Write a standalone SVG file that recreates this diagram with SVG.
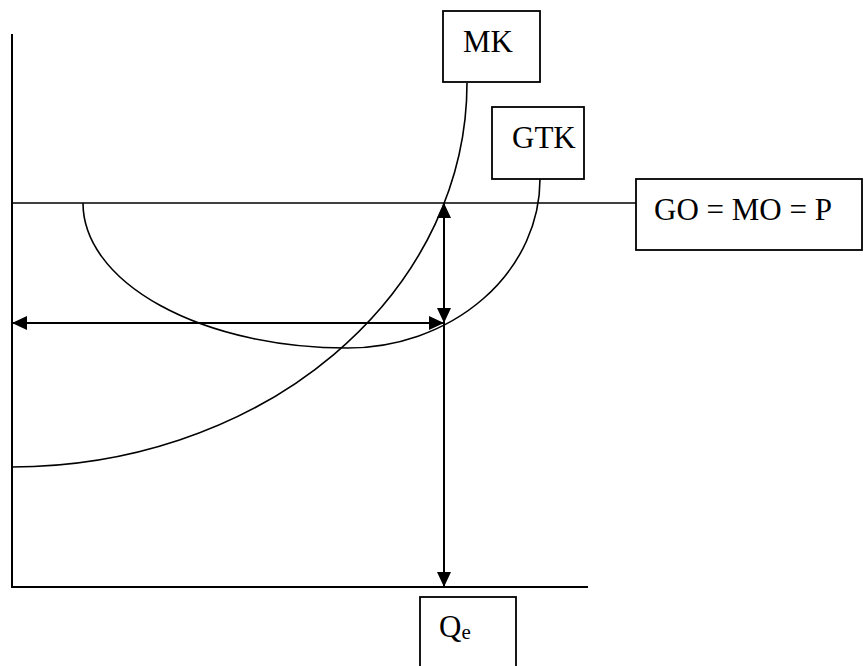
<svg xmlns="http://www.w3.org/2000/svg" width="865" height="666" viewBox="0 0 865 666">
<defs>
<style>
.ln{fill:none;stroke:#000;stroke-width:1.6}
.ax{fill:none;stroke:#000;stroke-width:2}
.box{fill:#fff;stroke:#000;stroke-width:1.8}
.lbl{font-family:"Liberation Serif","Times New Roman",serif;font-size:31px;fill:#000}
.arr{fill:none;stroke:#000;stroke-width:2}
</style>
<marker id="ah" viewBox="0 0 15 14" refX="15" refY="7" markerWidth="15" markerHeight="14" markerUnits="userSpaceOnUse" orient="auto-start-reverse">
<path d="M0,0 L15,7 L0,14 Z" fill="#000"/>
</marker>
</defs>
<rect width="865" height="666" fill="#fff"/>
<g id="axes">
<path class="ax" d="M12,34 L12,587 L588,587"/>
</g>
<g id="connectors">
<path class="ln" d="M12,203 L636,203"/>
<path class="ln" d="M467,83 A455,384 0 0 1 12,467"/>
<path class="ln" d="M83,203 A264,145 0 0 0 347,348 A193,169 0 0 0 540,179"/>
<path class="arr" d="M444,323 L444,203" marker-start="url(#ah)" marker-end="url(#ah)"/>
<path class="arr" d="M444,323 L12,323" marker-start="url(#ah)" marker-end="url(#ah)"/>
<path class="arr" d="M444,323 L444,587" marker-end="url(#ah)"/>
</g>
<g id="mk">
<rect class="box" x="443" y="11" width="97" height="71"/>
<text class="lbl" x="463" y="52">MK</text>
</g>
<g id="gtk">
<rect class="box" x="492" y="107" width="92" height="72"/>
<text class="lbl" x="512" y="148">GTK</text>
</g>
<g id="price">
<rect class="box" x="636" y="179" width="226" height="71"/>
<text class="lbl" x="654" y="220">GO = MO = P</text>
</g>
<g id="qe">
<rect class="box" x="420" y="597" width="96" height="72"/>
<text class="lbl" x="439" y="637">Q<tspan font-size="21" dy="2">e</tspan></text>
</g>
</svg>
